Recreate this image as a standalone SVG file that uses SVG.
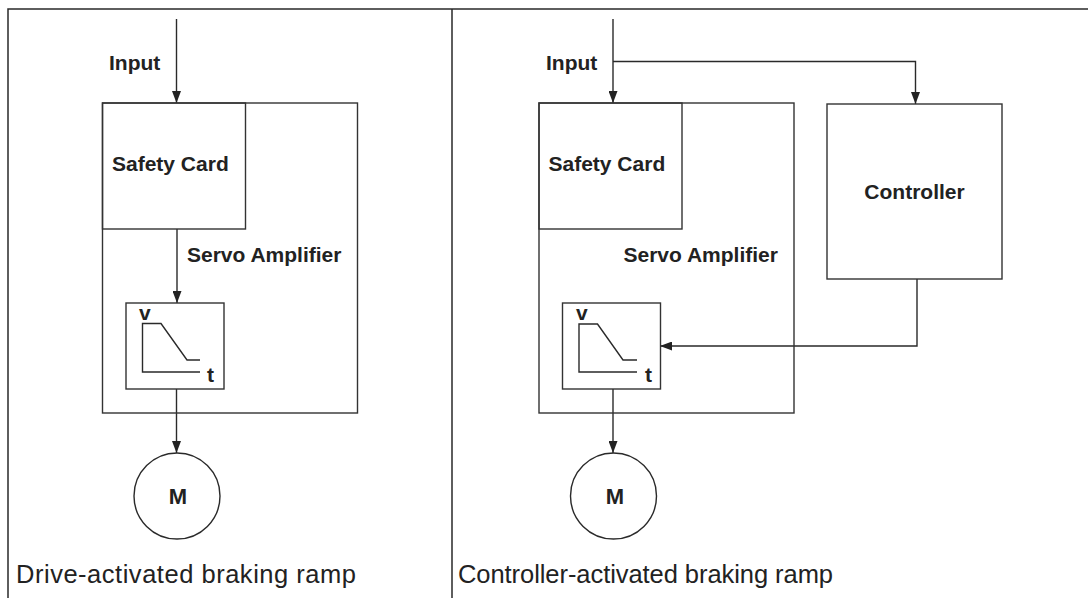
<svg xmlns="http://www.w3.org/2000/svg" width="1088" height="598" viewBox="0 0 1088 598">
<defs>
<marker id="arr" markerUnits="userSpaceOnUse" markerWidth="12" markerHeight="9" refX="12" refY="4.5" orient="auto">
<path d="M0,0 L12,4.5 L0,9 z" fill="#222"/>
</marker>
<style>
.ln{fill:none;stroke:#2a2a2a;stroke-width:1.4}
.fr{fill:none;stroke:#2a2a2a;stroke-width:1.5}
.bx{fill:none;stroke:#333;stroke-width:1.4}
.b{font-family:"Liberation Sans",Arial,sans-serif;font-weight:bold;font-size:21px;fill:#222}
.s{font-family:"Liberation Sans",Arial,sans-serif;font-weight:bold;font-size:21px;fill:#222}
.m{font-family:"Liberation Sans",Arial,sans-serif;font-weight:bold;font-size:22px;fill:#222}
.cap{font-family:"Liberation Sans",Arial,sans-serif;font-size:25.5px;fill:#222}
</style>
</defs>
<rect width="1088" height="598" fill="#fff"/>
<g id="frame">
<path class="fr" d="M8,598 V9 H1088 M452,9 V598"/>
</g>
<g id="connectors">
<line class="ln" x1="176.5" y1="19" x2="176.5" y2="103" marker-end="url(#arr)"/>
<line class="ln" x1="177" y1="229" x2="177" y2="303" marker-end="url(#arr)"/>
<line class="ln" x1="176.5" y1="389" x2="176.5" y2="453" marker-end="url(#arr)"/>
<line class="ln" x1="613" y1="19" x2="613" y2="103" marker-end="url(#arr)"/>
<polyline class="ln" points="613,61.5 915.5,61.5 915.5,104" marker-end="url(#arr)"/>
<polyline class="ln" points="917,279 917,346 660,346" marker-end="url(#arr)"/>
<line class="ln" x1="613" y1="389" x2="613" y2="453" marker-end="url(#arr)"/>
</g>
<g id="left-input-label"><text class="b" x="109" y="70">Input</text></g>
<g id="left-servo-amplifier">
<rect class="bx" x="102.5" y="103" width="255" height="310"/>
<text class="b" x="187" y="262">Servo Amplifier</text>
</g>
<g id="left-safety-card">
<rect class="bx" x="102.5" y="103" width="143" height="126"/>
<text class="b" x="112" y="171">Safety Card</text>
</g>
<g id="left-ramp">
<rect class="bx" x="126" y="303" width="98" height="86"/>
<polyline class="ln" points="200,372 142.5,372 142.5,323.5 161,323.5 187,360 200,360"/>
<text class="s" x="139" y="320">v</text>
<text class="s" x="207" y="382">t</text>
</g>
<g id="left-motor">
<circle class="ln" cx="177" cy="496" r="43"/>
<text class="m" x="178" y="504" text-anchor="middle">M</text>
</g>
<g id="left-caption"><text class="cap" x="16" y="583" textLength="340" lengthAdjust="spacing">Drive-activated braking ramp</text></g>

<g id="right-input-label"><text class="b" x="546" y="70">Input</text></g>
<g id="right-servo-amplifier">
<rect class="bx" x="539" y="103" width="255" height="310"/>
<text class="b" x="623.5" y="262">Servo Amplifier</text>
</g>
<g id="right-safety-card">
<rect class="bx" x="539" y="103" width="143" height="126"/>
<text class="b" x="548.5" y="171">Safety Card</text>
</g>
<g id="controller">
<rect class="bx" x="827" y="104" width="175" height="175"/>
<text class="b" x="914.5" y="199" text-anchor="middle">Controller</text>
</g>
<g id="right-ramp">
<rect class="bx" x="562.5" y="303" width="98" height="86"/>
<polyline class="ln" points="637,372 579,372 579,324 597.5,324 623,360 637,360"/>
<text class="s" x="576" y="320">v</text>
<text class="s" x="645" y="382">t</text>
</g>
<g id="right-motor">
<circle class="ln" cx="613.5" cy="496" r="43"/>
<text class="m" x="615" y="504" text-anchor="middle">M</text>
</g>
<g id="right-caption"><text class="cap" x="458" y="583" textLength="375" lengthAdjust="spacing">Controller-activated braking ramp</text></g>
</svg>
